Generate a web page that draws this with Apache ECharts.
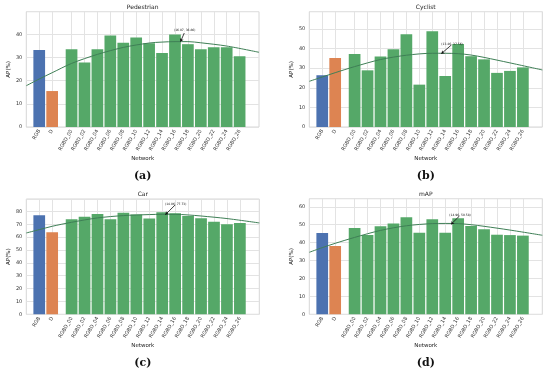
<!DOCTYPE html>
<html>
<head>
<meta charset="utf-8">
<script src="https://cdn.jsdelivr.net/npm/echarts@6/dist/echarts.min.js"></script>
<style>html,body{margin:0;padding:0;background:#fff;}#c{width:550px;height:378px;}</style>
</head>
<body>
<div id="c"></div>
<script>
// ---- data ----
const categories = ['RGB','D','RGBD_00','RGBD_02','RGBD_04','RGBD_06','RGBD_08','RGBD_10','RGBD_12','RGBD_14','RGBD_16','RGBD_18','RGBD_20','RGBD_22','RGBD_24','RGBD_26'];
const pedestrian = [33.2, 15.5, 33.5, 27.8, 33.5, 39.4, 36.3, 38.6, 36.1, 31.9, 39.9, 35.7, 33.5, 34.4, 34.4, 30.5];
const cyclist    = [26.4, 35.2, 37.2, 28.9, 35.9, 39.6, 47.3, 21.6, 48.8, 26.0, 42.3, 36.1, 34.5, 27.6, 28.6, 30.4];
const car        = [76.9, 63.7, 73.8, 75.9, 78.0, 73.8, 79.0, 77.5, 74.4, 79.3, 78.5, 76.4, 74.6, 72.0, 69.9, 71.0];
const mAP        = [45.4, 38.1, 48.1, 44.2, 49.1, 50.7, 54.1, 45.5, 53.0, 45.5, 53.6, 49.3, 47.4, 44.4, 44.2, 43.9];
// fitted trend curves
const curveX          = [-1, 0, 1, 2.5, 4.5, 6.5, 8.5, 9.5, 10.5, 11.5, 12.5, 14.5, 17];
const curvePedestrian = [17.8, 20.7, 23.4, 27.4, 31.3, 34.3, 36.2, 36.6, 36.8, 36.8, 36.3, 34.9, 32.2];
const curveCyclist    = [23.3, 25.5, 27.7, 30.8, 34.4, 36.6, 37.6, 37.6, 37.4, 36.7, 35.5, 32.7, 29.1];
const curveCar        = [63.2, 65.8, 68.4, 71.5, 74.9, 76.7, 77.5, 77.7, 77.7, 77.2, 76.4, 74.4, 71.0];
const curveMAP        = [34.6, 37.2, 39.6, 42.9, 46.8, 49.4, 50.6, 50.7, 50.6, 50.0, 49.1, 47.0, 44.1];
const yTicks = [0, 10, 20, 30, 40, 50, 60, 70, 80];
const titles = ['Pedestrian', 'Cyclist', 'Car', 'mAP'];
const subLabels = ['(a)', '(b)', '(c)', '(d)'];
const annotations = [
  {text: '(16.07, 36.86)', from: [11.22, 40.5], to: [10.93, 36.8]},
  {text: '(13.46, 37.56)', from: [9.97, 41.8], to: [9.2, 37.4]},
  {text: '(14.06, 77.73)', from: [10.49, 84.9], to: [9.74, 77.4]},
  {text: '(14.96, 50.58)', from: [10.59, 54.8], to: [9.95, 50.2]}
];

// ---- layout ----
const xPos = categories.map((c, i) => i < 2 ? i : i + 0.5);
const barColors = ['#4c72b0', '#dd8452', '#55a868'];
const grids = [
  {left: 26.3, top: 11.7, width: 232.7, height: 115.3},
  {left: 309.3, top: 11.7, width: 233, height: 115.3},
  {left: 26.3, top: 199, width: 233, height: 115.3},
  {left: 309.3, top: 198.7, width: 233, height: 115.6}
];
const yMaxes = [49.7, 58.8, 89.6, 64.5];
const values = [pedestrian, cyclist, car, mAP];
const curves = [curvePedestrian, curveCyclist, curveCar, curveMAP];
const font = 'DejaVu Sans';

const option = {
  animation: false,
  backgroundColor: '#fff',
  grid: grids.map(g => Object.assign({show: true, borderColor: '#d6d6d6', borderWidth: 1, backgroundColor: 'transparent'}, g)),
  title: [],
  xAxis: [],
  yAxis: [],
  series: []
};

grids.forEach((g, k) => {
  const cx = g.left + g.width / 2;
  option.title.push({
    text: titles[k], left: cx, top: g.top - 7.5, textAlign: 'center', padding: 0,
    textStyle: {fontFamily: font, fontSize: 6, fontWeight: 'normal', color: '#222'}
  });
  option.title.push({
    text: subLabels[k], left: cx, top: g.top + g.height + 43.5, textAlign: 'center', padding: 0,
    textStyle: {fontFamily: 'DejaVu Serif', fontSize: 11, fontWeight: 'bold', color: '#111'}
  });
  option.xAxis.push({
    type: 'value', gridIndex: k, min: -1, max: 17,
    name: 'Network', nameLocation: 'middle', nameGap: 28,
    nameTextStyle: {fontFamily: font, fontSize: 5.5, color: '#222'},
    axisLine: {show: false}, axisTick: {show: false}, splitLine: {show: false},
    axisLabel: {
      customValues: xPos, rotate: 60, margin: 3, fontFamily: font, fontSize: 5, color: '#333',
      formatter: v => { const i = xPos.indexOf(v); return i >= 0 ? categories[i] : ''; }
    }
  });
  option.yAxis.push({
    type: 'value', gridIndex: k, min: 0, max: yMaxes[k], interval: 10,
    name: 'AP(%)', nameLocation: 'middle', nameGap: 14,
    nameTextStyle: {fontFamily: font, fontSize: 5.5, color: '#222'},
    axisLine: {show: false}, axisTick: {show: false},
    splitLine: {show: true, lineStyle: {color: '#e3e3e3', width: 1}},
    axisLabel: {
      showMaxLabel: false, margin: 4, fontFamily: font, fontSize: 5, color: '#333',
      formatter: v => yTicks.indexOf(v) >= 0 ? String(v) : ''
    }
  });
  // vertical grid lines at category positions (drawn beneath the bars)
  option.series.push({
    type: 'line', xAxisIndex: k, yAxisIndex: k, data: [], silent: true, z: 0,
    markLine: {
      silent: true, z: 0, symbol: ['none', 'none'], label: {show: false},
      lineStyle: {color: '#e3e3e3', width: 1, type: 'solid'},
      emphasis: {disabled: true},
      data: xPos.map(p => ({xAxis: p}))
    }
  });
  option.series.push({
    type: 'bar', xAxisIndex: k, yAxisIndex: k, z: 2, barWidth: 11.7,
    data: values[k].map((v, i) => ({
      value: [xPos[i], v],
      itemStyle: {color: barColors[Math.min(i, 2)]}
    }))
  });
  const a = annotations[k];
  option.series.push({
    type: 'line', xAxisIndex: k, yAxisIndex: k, z: 3, smooth: 0.3, showSymbol: false, clip: true,
    lineStyle: {color: '#3f7f56', width: 1},
    data: curveX.map((x, i) => [x, curves[k][i]]),
    markLine: {
      silent: true, z: 6, symbol: ['none', 'arrow'], symbolSize: 3,
      lineStyle: {color: '#111', width: 0.8, type: 'solid'},
      label: {show: true, position: 'start', distance: 1, formatter: a.text, fontFamily: font, fontSize: 3, color: '#111'},
      data: [[{coord: a.from}, {coord: a.to}]]
    }
  });
});

const chart = echarts.init(document.getElementById('c'), null, {renderer: 'canvas'});
chart.setOption(option);
</script>
</body>
</html>
